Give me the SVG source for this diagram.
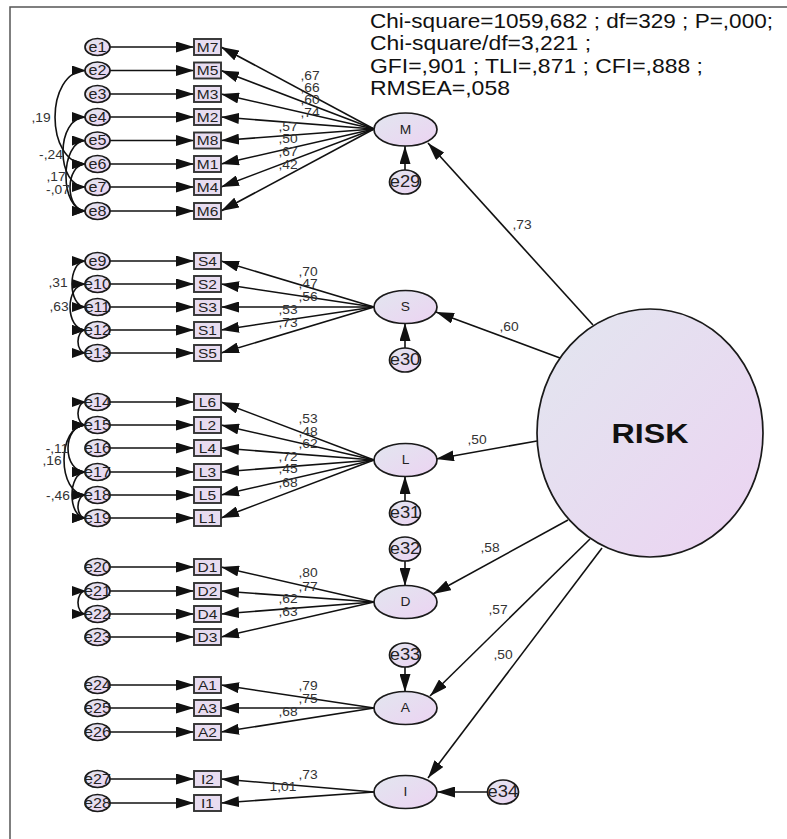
<svg xmlns="http://www.w3.org/2000/svg" width="787" height="839" viewBox="0 0 787 839">
<defs>
<linearGradient id="gr" x1="0" y1="0" x2="1" y2="1">
<stop offset="0" stop-color="#e2e6ef"/>
<stop offset="1" stop-color="#ecd3f2"/>
</linearGradient>
<marker id="ah" markerUnits="userSpaceOnUse" markerWidth="19" markerHeight="11" refX="18" refY="5.5" orient="auto"><path d="M0,0 L18,5.5 L0,11 z" fill="#111"/></marker>
<marker id="ac" markerUnits="userSpaceOnUse" markerWidth="15" markerHeight="10" refX="14" refY="5" orient="auto-start-reverse"><path d="M0,0 L14,5 L0,10 z" fill="#111"/></marker>
</defs>
<style>
.t{font-family:"Liberation Sans",Arial,sans-serif;text-anchor:middle;fill:#222;transform-box:fill-box;transform-origin:center;transform:scaleX(1.15)}
.e{font-size:14px}
.eb{font-size:16px}
.bx{font-size:13.5px}
.n{font-size:12px;fill:#333}
.f{font-size:12px}
.risk{font-size:28px;font-weight:bold;fill:#111}
.fit{font-family:"Liberation Sans",Arial,sans-serif;font-size:21px;fill:#111}
.ec{fill:url(#gr);stroke:#1a1a1a;stroke-width:1.7}
.box{fill:#e8dcf0;stroke:#333;stroke-width:1.9}
.ar{stroke:#111;stroke-width:1.6;fill:none;marker-end:url(#ah)}
.cv{stroke:#111;stroke-width:1.6;fill:none;marker-start:url(#ac);marker-end:url(#ac)}
</style>
<rect width="787" height="839" fill="#fff"/>
<path d="M10,839 V7 H787" fill="none" stroke="#555" stroke-width="1.5"/>
<g id="fit">
<text class="fit" x="370" y="28" textLength="403" lengthAdjust="spacingAndGlyphs">Chi-square=1059,682 ; df=329 ; P=,000;</text>
<text class="fit" x="370" y="50" textLength="221" lengthAdjust="spacingAndGlyphs">Chi-square/df=3,221 ;</text>
<text class="fit" x="370" y="73" textLength="333" lengthAdjust="spacingAndGlyphs">GFI=,901 ; TLI=,871 ; CFI=,888 ;</text>
<text class="fit" x="370" y="95" textLength="140" lengthAdjust="spacingAndGlyphs">RMSEA=,058</text>
</g>
<g id="connectors">
<line class="ar" x1="110" y1="47" x2="194" y2="47"/>
<line class="ar" x1="110" y1="70.5" x2="194" y2="70.5"/>
<line class="ar" x1="110" y1="94" x2="194" y2="94"/>
<line class="ar" x1="110" y1="117" x2="194" y2="117"/>
<line class="ar" x1="110" y1="140.5" x2="194" y2="140.5"/>
<line class="ar" x1="110" y1="164" x2="194" y2="164"/>
<line class="ar" x1="110" y1="187" x2="194" y2="187"/>
<line class="ar" x1="110" y1="211" x2="194" y2="211"/>
<line class="ar" x1="110" y1="261" x2="194" y2="261"/>
<line class="ar" x1="110" y1="284" x2="194" y2="284"/>
<line class="ar" x1="110" y1="307" x2="194" y2="307"/>
<line class="ar" x1="110" y1="330" x2="194" y2="330"/>
<line class="ar" x1="110" y1="353" x2="194" y2="353"/>
<line class="ar" x1="110" y1="402" x2="194" y2="402"/>
<line class="ar" x1="110" y1="425" x2="194" y2="425"/>
<line class="ar" x1="110" y1="448" x2="194" y2="448"/>
<line class="ar" x1="110" y1="472" x2="194" y2="472"/>
<line class="ar" x1="110" y1="495" x2="194" y2="495"/>
<line class="ar" x1="110" y1="518" x2="194" y2="518"/>
<line class="ar" x1="110" y1="567" x2="194" y2="567"/>
<line class="ar" x1="110" y1="591" x2="194" y2="591"/>
<line class="ar" x1="110" y1="614" x2="194" y2="614"/>
<line class="ar" x1="110" y1="637" x2="194" y2="637"/>
<line class="ar" x1="110" y1="685" x2="194" y2="685"/>
<line class="ar" x1="110" y1="708" x2="194" y2="708"/>
<line class="ar" x1="110" y1="732" x2="194" y2="732"/>
<line class="ar" x1="110" y1="779" x2="194" y2="779"/>
<line class="ar" x1="110" y1="803" x2="194" y2="803"/>
<line class="ar" x1="374" y1="129" x2="221" y2="47"/>
<line class="ar" x1="374" y1="129" x2="221" y2="70.5"/>
<line class="ar" x1="374" y1="129" x2="221" y2="94"/>
<line class="ar" x1="374" y1="129" x2="221" y2="117"/>
<line class="ar" x1="374" y1="129" x2="221" y2="140.5"/>
<line class="ar" x1="374" y1="129" x2="221" y2="164"/>
<line class="ar" x1="374" y1="129" x2="221" y2="187"/>
<line class="ar" x1="374" y1="129" x2="221" y2="211"/>
<line class="ar" x1="374" y1="307" x2="221" y2="261"/>
<line class="ar" x1="374" y1="307" x2="221" y2="284"/>
<line class="ar" x1="374" y1="307" x2="221" y2="307"/>
<line class="ar" x1="374" y1="307" x2="221" y2="330"/>
<line class="ar" x1="374" y1="307" x2="221" y2="353"/>
<line class="ar" x1="374" y1="460" x2="221" y2="402"/>
<line class="ar" x1="374" y1="460" x2="221" y2="425"/>
<line class="ar" x1="374" y1="460" x2="221" y2="448"/>
<line class="ar" x1="374" y1="460" x2="221" y2="472"/>
<line class="ar" x1="374" y1="460" x2="221" y2="495"/>
<line class="ar" x1="374" y1="460" x2="221" y2="518"/>
<line class="ar" x1="374" y1="602" x2="221" y2="567"/>
<line class="ar" x1="374" y1="602" x2="221" y2="591"/>
<line class="ar" x1="374" y1="602" x2="221" y2="614"/>
<line class="ar" x1="374" y1="602" x2="221" y2="637"/>
<line class="ar" x1="374" y1="708" x2="221" y2="685"/>
<line class="ar" x1="374" y1="708" x2="221" y2="708"/>
<line class="ar" x1="374" y1="708" x2="221" y2="732"/>
<line class="ar" x1="374" y1="792" x2="221" y2="779"/>
<line class="ar" x1="374" y1="792" x2="221" y2="803"/>
<line class="ar" x1="593" y1="325" x2="428" y2="143"/>
<line class="ar" x1="560" y1="358" x2="436" y2="312"/>
<line class="ar" x1="537" y1="441" x2="436" y2="459"/>
<line class="ar" x1="568" y1="520" x2="433" y2="594"/>
<line class="ar" x1="590" y1="539" x2="430" y2="696"/>
<line class="ar" x1="602" y1="548" x2="428" y2="778"/>
<line class="ar" x1="405" y1="170" x2="405" y2="146"/>
<line class="ar" x1="405" y1="348" x2="405" y2="323"/>
<line class="ar" x1="405" y1="501" x2="405" y2="476"/>
<line class="ar" x1="405" y1="561" x2="405" y2="586"/>
<line class="ar" x1="405" y1="667" x2="405" y2="692"/>
<line class="ar" x1="488" y1="792" x2="437" y2="792"/>
<path class="cv" d="M86,70.5 C44.7,70.5 44.7,164 86,164"/>
<path class="cv" d="M86,117 C55.3,117 55.3,187 86,187"/>
<path class="cv" d="M86,140.5 C59.3,140.5 59.3,211 86,211"/>
<path class="cv" d="M86,164 C64.7,164 64.7,211 86,211"/>
<path class="cv" d="M86,261 C67.3,261 67.3,307 86,307"/>
<path class="cv" d="M86,284 C64.7,284 64.7,330 86,330"/>
<path class="cv" d="M86,330 C75.3,330 75.3,353 86,353"/>
<path class="cv" d="M86,402 C75.3,402 75.3,425 86,425"/>
<path class="cv" d="M86,425 C62,425 62,472 86,472"/>
<path class="cv" d="M86,425 C56.7,425 56.7,495 86,495"/>
<path class="cv" d="M86,472 C67.3,472 67.3,518 86,518"/>
<path class="cv" d="M86,495 C75.3,495 75.3,518 86,518"/>
<path class="cv" d="M86,591 C75.3,591 75.3,614 86,614"/>
</g>
<g id="connector-labels">
<text class="t n" x="310" y="80">,67</text>
<text class="t n" x="310" y="92">,66</text>
<text class="t n" x="310" y="104">,60</text>
<text class="t n" x="310" y="117">,74</text>
<text class="t n" x="288" y="131">,57</text>
<text class="t n" x="288" y="143">,50</text>
<text class="t n" x="288" y="156">,67</text>
<text class="t n" x="288" y="169">,42</text>
<text class="t n" x="308" y="276">,70</text>
<text class="t n" x="308" y="288">,47</text>
<text class="t n" x="308" y="301">,56</text>
<text class="t n" x="288" y="314">,53</text>
<text class="t n" x="288" y="327">,73</text>
<text class="t n" x="308" y="423">,53</text>
<text class="t n" x="308" y="436">,48</text>
<text class="t n" x="308" y="448">,62</text>
<text class="t n" x="288" y="461">,72</text>
<text class="t n" x="288" y="473">,45</text>
<text class="t n" x="288" y="487">,68</text>
<text class="t n" x="308" y="577">,80</text>
<text class="t n" x="308" y="591">,77</text>
<text class="t n" x="288" y="603">,62</text>
<text class="t n" x="288" y="616">,63</text>
<text class="t n" x="308" y="690">,79</text>
<text class="t n" x="308" y="703">,75</text>
<text class="t n" x="288" y="716">,68</text>
<text class="t n" x="308" y="779">,73</text>
<text class="t n" x="283" y="791">1,01</text>
<text class="t n" x="522" y="229">,73</text>
<text class="t n" x="509" y="331">,60</text>
<text class="t n" x="477" y="444">,50</text>
<text class="t n" x="490" y="552">,58</text>
<text class="t n" x="498" y="614">,57</text>
<text class="t n" x="503" y="659">,50</text>
<text class="t n" x="41" y="122">,19</text>
<text class="t n" x="51" y="159">-,24</text>
<text class="t n" x="56" y="181">,17</text>
<text class="t n" x="58" y="194">-,07</text>
<text class="t n" x="58" y="287">,31</text>
<text class="t n" x="59" y="311">,63</text>
<text class="t n" x="57" y="453">-,11</text>
<text class="t n" x="52" y="465">,16</text>
<text class="t n" x="58" y="500">-,46</text>
</g>
<g id="RISK"><ellipse class="ec" cx="650" cy="433" rx="113" ry="124"/><text class="t risk" x="650" y="443">RISK</text></g>
<g id="M"><ellipse class="ec" cx="405.5" cy="129.5" rx="31.5" ry="16.5"/><text class="t f" x="405.5" y="134">M</text></g>
<g id="S"><ellipse class="ec" cx="405.5" cy="307" rx="31.5" ry="16.5"/><text class="t f" x="405.5" y="311.5">S</text></g>
<g id="L"><ellipse class="ec" cx="405.5" cy="460" rx="31.5" ry="16.5"/><text class="t f" x="405.5" y="464.5">L</text></g>
<g id="D"><ellipse class="ec" cx="405.5" cy="602" rx="31.5" ry="16.5"/><text class="t f" x="405.5" y="606.5">D</text></g>
<g id="A"><ellipse class="ec" cx="405.5" cy="708" rx="31.5" ry="16.5"/><text class="t f" x="405.5" y="712.5">A</text></g>
<g id="I"><ellipse class="ec" cx="405.5" cy="792" rx="31.5" ry="16.5"/><text class="t f" x="405.5" y="796.5">I</text></g>
<g id="e29"><ellipse class="ec" cx="405" cy="182" rx="15.5" ry="12"/><text class="t eb" x="405" y="187.5">e29</text></g>
<g id="e30"><ellipse class="ec" cx="405" cy="360" rx="15.5" ry="12"/><text class="t eb" x="405" y="365.5">e30</text></g>
<g id="e31"><ellipse class="ec" cx="405" cy="513" rx="15.5" ry="12"/><text class="t eb" x="405" y="518.5">e31</text></g>
<g id="e32"><ellipse class="ec" cx="405" cy="549" rx="15.5" ry="12"/><text class="t eb" x="405" y="554.5">e32</text></g>
<g id="e33"><ellipse class="ec" cx="405" cy="655" rx="15.5" ry="12"/><text class="t eb" x="405" y="660.5">e33</text></g>
<g id="e34"><ellipse class="ec" cx="503" cy="792" rx="15.5" ry="12"/><text class="t eb" x="503" y="797.5">e34</text></g>
<g id="e1"><ellipse class="ec" cx="97.5" cy="47" rx="12.5" ry="8.5"/><text class="t e" x="97.5" y="52">e1</text></g>
<g id="e2"><ellipse class="ec" cx="97.5" cy="70.5" rx="12.5" ry="8.5"/><text class="t e" x="97.5" y="75.5">e2</text></g>
<g id="e3"><ellipse class="ec" cx="97.5" cy="94" rx="12.5" ry="8.5"/><text class="t e" x="97.5" y="99">e3</text></g>
<g id="e4"><ellipse class="ec" cx="97.5" cy="117" rx="12.5" ry="8.5"/><text class="t e" x="97.5" y="122">e4</text></g>
<g id="e5"><ellipse class="ec" cx="97.5" cy="140.5" rx="12.5" ry="8.5"/><text class="t e" x="97.5" y="145.5">e5</text></g>
<g id="e6"><ellipse class="ec" cx="97.5" cy="164" rx="12.5" ry="8.5"/><text class="t e" x="97.5" y="169">e6</text></g>
<g id="e7"><ellipse class="ec" cx="97.5" cy="187" rx="12.5" ry="8.5"/><text class="t e" x="97.5" y="192">e7</text></g>
<g id="e8"><ellipse class="ec" cx="97.5" cy="211" rx="12.5" ry="8.5"/><text class="t e" x="97.5" y="216">e8</text></g>
<g id="e9"><ellipse class="ec" cx="97.5" cy="261" rx="12.5" ry="8.5"/><text class="t e" x="97.5" y="266">e9</text></g>
<g id="e10"><ellipse class="ec" cx="97.5" cy="284" rx="12.5" ry="8.5"/><text class="t e" x="97.5" y="289">e10</text></g>
<g id="e11"><ellipse class="ec" cx="97.5" cy="307" rx="12.5" ry="8.5"/><text class="t e" x="97.5" y="312">e11</text></g>
<g id="e12"><ellipse class="ec" cx="97.5" cy="330" rx="12.5" ry="8.5"/><text class="t e" x="97.5" y="335">e12</text></g>
<g id="e13"><ellipse class="ec" cx="97.5" cy="353" rx="12.5" ry="8.5"/><text class="t e" x="97.5" y="358">e13</text></g>
<g id="e14"><ellipse class="ec" cx="97.5" cy="402" rx="12.5" ry="8.5"/><text class="t e" x="97.5" y="407">e14</text></g>
<g id="e15"><ellipse class="ec" cx="97.5" cy="425" rx="12.5" ry="8.5"/><text class="t e" x="97.5" y="430">e15</text></g>
<g id="e16"><ellipse class="ec" cx="97.5" cy="448" rx="12.5" ry="8.5"/><text class="t e" x="97.5" y="453">e16</text></g>
<g id="e17"><ellipse class="ec" cx="97.5" cy="472" rx="12.5" ry="8.5"/><text class="t e" x="97.5" y="477">e17</text></g>
<g id="e18"><ellipse class="ec" cx="97.5" cy="495" rx="12.5" ry="8.5"/><text class="t e" x="97.5" y="500">e18</text></g>
<g id="e19"><ellipse class="ec" cx="97.5" cy="518" rx="12.5" ry="8.5"/><text class="t e" x="97.5" y="523">e19</text></g>
<g id="e20"><ellipse class="ec" cx="97.5" cy="567" rx="12.5" ry="8.5"/><text class="t e" x="97.5" y="572">e20</text></g>
<g id="e21"><ellipse class="ec" cx="97.5" cy="591" rx="12.5" ry="8.5"/><text class="t e" x="97.5" y="596">e21</text></g>
<g id="e22"><ellipse class="ec" cx="97.5" cy="614" rx="12.5" ry="8.5"/><text class="t e" x="97.5" y="619">e22</text></g>
<g id="e23"><ellipse class="ec" cx="97.5" cy="637" rx="12.5" ry="8.5"/><text class="t e" x="97.5" y="642">e23</text></g>
<g id="e24"><ellipse class="ec" cx="97.5" cy="685" rx="12.5" ry="8.5"/><text class="t e" x="97.5" y="690">e24</text></g>
<g id="e25"><ellipse class="ec" cx="97.5" cy="708" rx="12.5" ry="8.5"/><text class="t e" x="97.5" y="713">e25</text></g>
<g id="e26"><ellipse class="ec" cx="97.5" cy="732" rx="12.5" ry="8.5"/><text class="t e" x="97.5" y="737">e26</text></g>
<g id="e27"><ellipse class="ec" cx="97.5" cy="779" rx="12.5" ry="8.5"/><text class="t e" x="97.5" y="784">e27</text></g>
<g id="e28"><ellipse class="ec" cx="97.5" cy="803" rx="12.5" ry="8.5"/><text class="t e" x="97.5" y="808">e28</text></g>
<g id="M7"><rect class="box" x="194" y="39" width="27" height="16"/><text class="t bx" x="207.5" y="52">M7</text></g>
<g id="M5"><rect class="box" x="194" y="62.5" width="27" height="16"/><text class="t bx" x="207.5" y="75.5">M5</text></g>
<g id="M3"><rect class="box" x="194" y="86" width="27" height="16"/><text class="t bx" x="207.5" y="99">M3</text></g>
<g id="M2"><rect class="box" x="194" y="109" width="27" height="16"/><text class="t bx" x="207.5" y="122">M2</text></g>
<g id="M8"><rect class="box" x="194" y="132.5" width="27" height="16"/><text class="t bx" x="207.5" y="145.5">M8</text></g>
<g id="M1"><rect class="box" x="194" y="156" width="27" height="16"/><text class="t bx" x="207.5" y="169">M1</text></g>
<g id="M4"><rect class="box" x="194" y="179" width="27" height="16"/><text class="t bx" x="207.5" y="192">M4</text></g>
<g id="M6"><rect class="box" x="194" y="203" width="27" height="16"/><text class="t bx" x="207.5" y="216">M6</text></g>
<g id="S4"><rect class="box" x="194" y="253" width="27" height="16"/><text class="t bx" x="207.5" y="266">S4</text></g>
<g id="S2"><rect class="box" x="194" y="276" width="27" height="16"/><text class="t bx" x="207.5" y="289">S2</text></g>
<g id="S3"><rect class="box" x="194" y="299" width="27" height="16"/><text class="t bx" x="207.5" y="312">S3</text></g>
<g id="S1"><rect class="box" x="194" y="322" width="27" height="16"/><text class="t bx" x="207.5" y="335">S1</text></g>
<g id="S5"><rect class="box" x="194" y="345" width="27" height="16"/><text class="t bx" x="207.5" y="358">S5</text></g>
<g id="L6"><rect class="box" x="194" y="394" width="27" height="16"/><text class="t bx" x="207.5" y="407">L6</text></g>
<g id="L2"><rect class="box" x="194" y="417" width="27" height="16"/><text class="t bx" x="207.5" y="430">L2</text></g>
<g id="L4"><rect class="box" x="194" y="440" width="27" height="16"/><text class="t bx" x="207.5" y="453">L4</text></g>
<g id="L3"><rect class="box" x="194" y="464" width="27" height="16"/><text class="t bx" x="207.5" y="477">L3</text></g>
<g id="L5"><rect class="box" x="194" y="487" width="27" height="16"/><text class="t bx" x="207.5" y="500">L5</text></g>
<g id="L1"><rect class="box" x="194" y="510" width="27" height="16"/><text class="t bx" x="207.5" y="523">L1</text></g>
<g id="D1"><rect class="box" x="194" y="559" width="27" height="16"/><text class="t bx" x="207.5" y="572">D1</text></g>
<g id="D2"><rect class="box" x="194" y="583" width="27" height="16"/><text class="t bx" x="207.5" y="596">D2</text></g>
<g id="D4"><rect class="box" x="194" y="606" width="27" height="16"/><text class="t bx" x="207.5" y="619">D4</text></g>
<g id="D3"><rect class="box" x="194" y="629" width="27" height="16"/><text class="t bx" x="207.5" y="642">D3</text></g>
<g id="A1"><rect class="box" x="194" y="677" width="27" height="16"/><text class="t bx" x="207.5" y="690">A1</text></g>
<g id="A3"><rect class="box" x="194" y="700" width="27" height="16"/><text class="t bx" x="207.5" y="713">A3</text></g>
<g id="A2"><rect class="box" x="194" y="724" width="27" height="16"/><text class="t bx" x="207.5" y="737">A2</text></g>
<g id="I2"><rect class="box" x="194" y="771" width="27" height="16"/><text class="t bx" x="207.5" y="784">I2</text></g>
<g id="I1"><rect class="box" x="194" y="795" width="27" height="16"/><text class="t bx" x="207.5" y="808">I1</text></g>
</svg>
